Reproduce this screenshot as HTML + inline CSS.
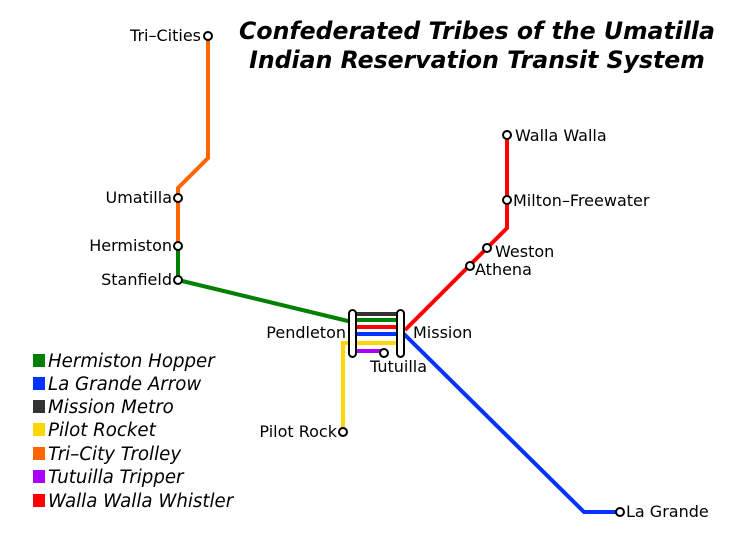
<!DOCTYPE html>
<html><head><meta charset="utf-8"><style>
html,body{margin:0;padding:0;background:#fff;}
svg{display:block;}
text{font-family:"DejaVu Sans","Liberation Sans",sans-serif;}
</style></head><body>
<svg width="750" height="550" viewBox="0 0 750 550" xmlns="http://www.w3.org/2000/svg">
<rect width="750" height="550" fill="#fff"/>
<g font-weight="bold" font-style="italic" font-size="23.6" text-anchor="middle" fill="#000">
<text x="477" y="39">Confederated Tribes of the Umatilla</text>
<text x="477" y="68">Indian Reservation Transit System</text>
</g>
<g fill="none" stroke-width="4" stroke-linejoin="miter">
<polyline points="208,36 208,158 178,188 178,246" stroke="#ff6600"/>
<polyline points="178,246 178,280 352,322" stroke="#008000"/>
<polyline points="507,135 507,228 405,330" stroke="#ff0000"/>
<polyline points="404,334 584,512 620,512" stroke="#0033ff"/>
<polyline points="343,432 343,343 352,343" stroke="#ffd700"/>
<line x1="352" y1="314" x2="401" y2="314" stroke="#333"/>
<line x1="352" y1="320" x2="401" y2="320" stroke="#008000"/>
<line x1="352" y1="327" x2="401" y2="327" stroke="#ff0000"/>
<line x1="352" y1="334" x2="401" y2="334" stroke="#0033ff"/>
<line x1="352" y1="343" x2="401" y2="343" stroke="#ffd700"/>
<line x1="352" y1="351" x2="384" y2="351" stroke="#aa00ff"/>
</g>
<g fill="#fff" stroke="#000" stroke-width="2">
<rect x="349" y="310" width="7" height="47" rx="3.5"/>
<rect x="397" y="310" width="7" height="47" rx="3.5"/>
<circle cx="208" cy="36" r="4"/>
<circle cx="178" cy="198" r="4"/>
<circle cx="178" cy="246" r="4"/>
<circle cx="178" cy="280" r="4"/>
<circle cx="507" cy="135" r="4"/>
<circle cx="507" cy="200" r="4"/>
<circle cx="487" cy="248" r="4"/>
<circle cx="470" cy="266" r="4"/>
<circle cx="384" cy="353" r="4"/>
<circle cx="343" cy="432" r="4"/>
<circle cx="620" cy="512" r="4"/>
</g>
<g font-size="16" fill="#000">
<text x="201" y="41" text-anchor="end">Tri–Cities</text>
<text x="172" y="203" text-anchor="end">Umatilla</text>
<text x="172" y="251" text-anchor="end">Hermiston</text>
<text x="172" y="285" text-anchor="end">Stanfield</text>
<text x="346" y="338" text-anchor="end">Pendleton</text>
<text x="413" y="338">Mission</text>
<text x="370" y="372">Tutuilla</text>
<text x="337" y="437" text-anchor="end">Pilot Rock</text>
<text x="626" y="517">La Grande</text>
<text x="515" y="141">Walla Walla</text>
<text x="513" y="206">Milton–Freewater</text>
<text x="495" y="257">Weston</text>
<text x="475" y="275">Athena</text>
</g>
<g>
<rect x="33" y="354" width="12" height="13" fill="#008000"/>
<rect x="33" y="377" width="12" height="13" fill="#0033ff"/>
<rect x="33" y="400" width="12" height="13" fill="#333"/>
<rect x="33" y="423" width="12" height="13" fill="#ffd700"/>
<rect x="33" y="447" width="12" height="13" fill="#ff6600"/>
<rect x="33" y="470" width="12" height="13" fill="#aa00ff"/>
<rect x="33" y="494" width="12" height="13" fill="#ff0000"/>
</g>
<g font-size="18.2" font-style="italic" fill="#000">
<text x="48" y="367">Hermiston Hopper</text>
<text x="48" y="390">La Grande Arrow</text>
<text x="48" y="413">Mission Metro</text>
<text x="48" y="436">Pilot Rocket</text>
<text x="48" y="460">Tri–City Trolley</text>
<text x="48" y="483">Tutuilla Tripper</text>
<text x="48" y="507">Walla Walla Whistler</text>
</g>
</svg>
</body></html>
